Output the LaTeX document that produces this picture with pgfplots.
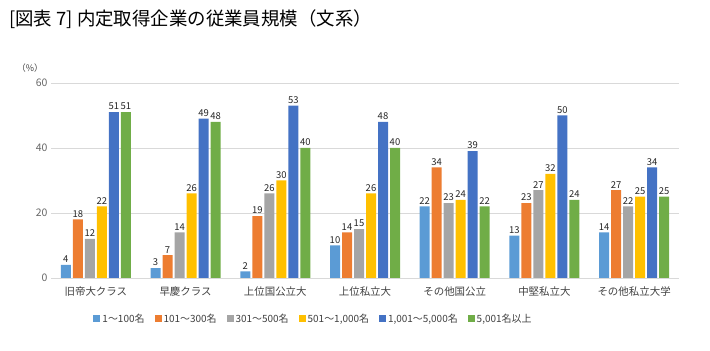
\documentclass[border=0pt]{standalone}
\usepackage{fontspec}
\setmainfont{Noto Sans CJK JP}
\usepackage{pgfplots}
\pgfplotsset{compat=1.18}
\definecolor{cA}{HTML}{5B9BD5}
\definecolor{cB}{HTML}{ED7D31}
\definecolor{cC}{HTML}{A5A5A5}
\definecolor{cD}{HTML}{FFC000}
\definecolor{cE}{HTML}{4472C4}
\definecolor{cF}{HTML}{70AD47}
\definecolor{txt}{HTML}{404040}
\definecolor{gridc}{HTML}{D9D9D9}
\begin{document}
\begin{tikzpicture}
\path[use as bounding box] (0bp,0bp) rectangle (710bp,351bp);
\node[anchor=west, font=\fontsize{18.5}{21}\selectfont, inner sep=0pt] at (9bp,332bp) {[図表 7] 内定取得企業の従業員規模（文系）};
\node[font=\fontsize{9}{10}\selectfont, text=txt, inner sep=0pt] at (30bp,283bp) {（\%）};
\begin{axis}[
  at={(51bp,73bp)}, anchor=south west, scale only axis,
  width=628bp, height=195bp,
  ymin=0, ymax=60, xmin=-0.5, xmax=6.5,
  ybar=2bp, bar width=10bp,
  axis line style={draw=none},
  ytick={0,20,40,60}, ymajorgrids, major grid style={gridc, line width=0.9pt},
  major tick length=0pt,
  xtick={0,...,6},
  xticklabels={旧帝大クラス,早慶クラス,上位国公立大,上位私立大,その他国公立,中堅私立大,その他私立大学},
  xticklabel style={font=\fontsize{10.5}{12}\selectfont, text=txt, yshift=-5bp},
  yticklabel style={font=\fontsize{10.5}{12}\selectfont, text=txt!80},
  /pgf/number format/assume math mode=true,
  nodes near coords,
  every node near coord/.append style={font=\fontsize{9.5}{10}\selectfont, text=black!85, inner sep=2pt},
  legend columns=6,
  legend style={draw=none, at={(0.418,-0.21)}, anchor=center, font=\fontsize{10}{12}\selectfont, text=txt, /tikz/every even column/.append style={column sep=8bp}},
  legend image code/.code={\fill[#1] (0,-3.5bp) rectangle (7bp,3.5bp);},
  clip=false,
]
\addplot[fill=cA, draw=none] coordinates {(0,4) (1,3) (2,2) (3,10) (4,22) (5,13) (6,14)};
\addplot[fill=cB, draw=none] coordinates {(0,18) (1,7) (2,19) (3,14) (4,34) (5,23) (6,27)};
\addplot[fill=cC, draw=none] coordinates {(0,12) (1,14) (2,26) (3,15) (4,23) (5,27) (6,22)};
\addplot[fill=cD, draw=none] coordinates {(0,22) (1,26) (2,30) (3,26) (4,24) (5,32) (6,25)};
\addplot[fill=cE, draw=none] coordinates {(0,51) (1,49) (2,53) (3,48) (4,39) (5,50) (6,34)};
\addplot[fill=cF, draw=none] coordinates {(0,51) (1,48) (2,40) (3,40) (4,22) (5,24) (6,25)};
\legend{1～100名,101～300名,301～500名,{501～1,000名},{1,001～5,000名},{5,001名以上}}
\end{axis}
\end{tikzpicture}
\end{document}
